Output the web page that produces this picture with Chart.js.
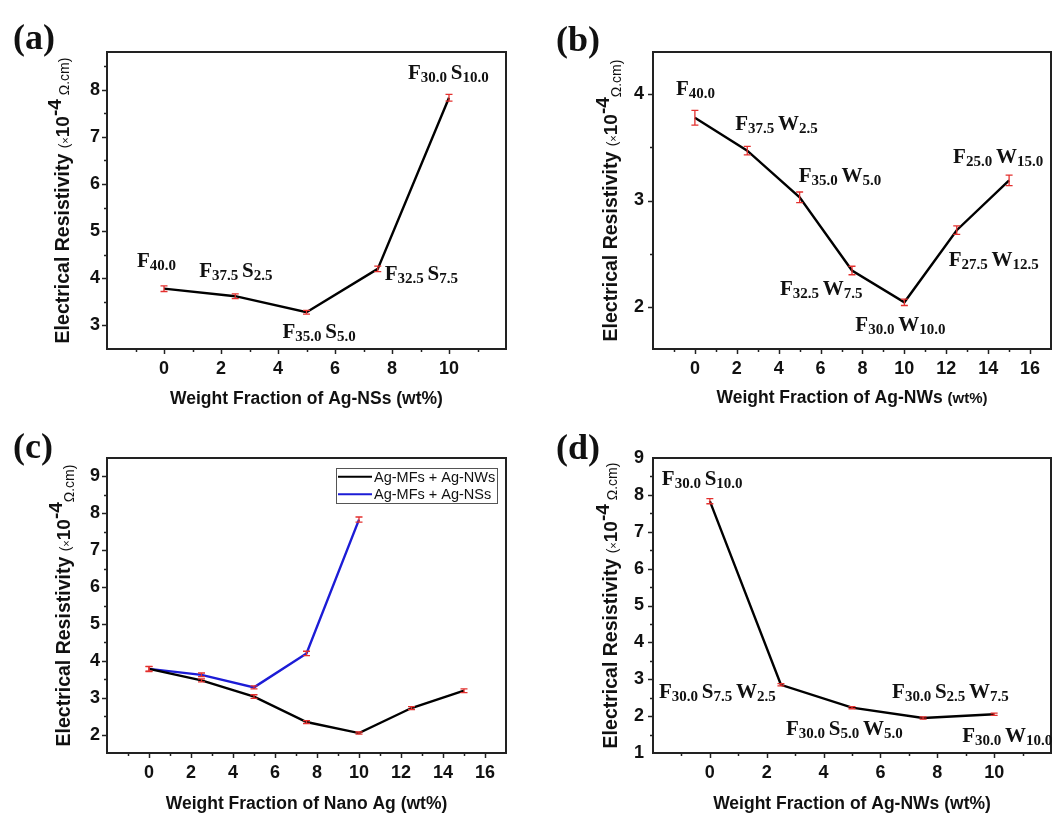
<!DOCTYPE html>
<html>
<head>
<meta charset="utf-8">
<title>Electrical resistivity of silver-filled composites</title>
<script src="https://cdn.jsdelivr.net/npm/chart.js@4.4.1/dist/chart.umd.min.js"></script>
<style>
    body { margin: 0; background: #fff; }
    #figure { position: relative; width: 1058px; height: 813px; overflow: hidden; background: #fff; }
    #figure canvas { position: absolute; }
</style>
</head>
<body>
<div id="figure">
    <canvas id="panelA" width="529" height="412" style="left:0;top:0"></canvas>
    <canvas id="panelB" width="529" height="412" style="left:529px;top:0"></canvas>
    <canvas id="panelC" width="529" height="407" style="left:0;top:406px"></canvas>
    <canvas id="panelD" width="529" height="407" style="left:529px;top:406px"></canvas>
</div>
<script>
// Ag-MFs + Ag-NSs (nano spheres), wt% of nano filler
const nsLoading = [0, 2.5, 5, 7.5, 10];
const nsResistivity = [3.78, 3.62, 3.28, 4.20, 7.83];
const nsError = [0.06, 0.05, 0.04, 0.06, 0.07];
const nsLabels = [
    [['F', '40.0']],
    [['F', '37.5'], ['S', '2.5']],
    [['F', '35.0'], ['S', '5.0']],
    [['F', '32.5'], ['S', '7.5']],
    [['F', '30.0'], ['S', '10.0']]
];

// Ag-MFs + Ag-NWs (nano wires)
const nwLoading = [0, 2.5, 5, 7.5, 10, 12.5, 15];
const nwResistivity = [3.78, 3.47, 3.03, 2.34, 2.04, 2.72, 3.19];
const nwError = [0.07, 0.04, 0.05, 0.04, 0.03, 0.04, 0.05];
const nwLabels = [
    [['F', '40.0']],
    [['F', '37.5'], ['W', '2.5']],
    [['F', '35.0'], ['W', '5.0']],
    [['F', '32.5'], ['W', '7.5']],
    [['F', '30.0'], ['W', '10.0']],
    [['F', '27.5'], ['W', '12.5']],
    [['F', '25.0'], ['W', '15.0']]
];

// F30 with NSs swapped for NWs
const mixLoading = [0, 2.5, 5, 7.5, 10];
const mixResistivity = [7.83, 2.85, 2.23, 1.95, 2.05];
const mixError = [0.07, 0.03, 0.03, 0.03, 0.03];
const mixLabels = [
    [['F', '30.0'], ['S', '10.0']],
    [['F', '30.0'], ['S', '7.5'], ['W', '2.5']],
    [['F', '30.0'], ['S', '5.0'], ['W', '5.0']],
    [['F', '30.0'], ['S', '2.5'], ['W', '7.5']],
    [['F', '30.0'], ['W', '10.0']]
];

const seriesNames = ['Ag-MFs + Ag-NWs', 'Ag-MFs + Ag-NSs'];

// tick labels
const xTicksShort = [0, 2, 4, 6, 8, 10];
const xTicksLong = [0, 2, 4, 6, 8, 10, 12, 14, 16];
const yTicksA = [3, 4, 5, 6, 7, 8];
const yTicksB = [2, 3, 4];
const yTicksC = [2, 3, 4, 5, 6, 7, 8, 9];
const yTicksD = [1, 2, 3, 4, 5, 6, 7, 8, 9];

const SANS = '"Liberation Sans", Arial, Helvetica, sans-serif';
const SERIF = '"Liberation Serif", "Times New Roman", Times, serif';
const ERR_COLOR = '#e3302e';

function yTitleParts(lowered) {
    return [
        { text: 'Electrical Resistivity ', font: 'bold 19.5px ' + SANS, dy: 0 },
        { text: '(', font: '14px ' + SANS, dy: 0 },
        { text: '\u00d7', font: '11px ' + SANS, dy: 0 },
        { text: '10', font: 'bold 19px ' + SANS, dy: 0 },
        { text: '-4', font: 'bold 19px ' + SANS, dy: -8 },
        { text: lowered ? '\u03a9.cm)' : ' \u03a9.cm)', font: '14px ' + SANS, dy: lowered ? 4 : 0 }
    ];
}

const panels = [
    {
        id: 'panelA', letter: '(a)', letterAt: [13, 49],
        area: { left: 107, right: 506, top: 52, bottom: 349 },
        x: { min: -2, max: 12, ticks: xTicksShort, minor: 1 },
        y: { min: 2.5, max: 8.8, ticks: yTicksA, minor: 0.5, pad: 7 },
        xTitle: [{ text: 'Weight Fraction of Ag-NSs (wt%)', font: 'bold 17.5px ' + SANS }],
        xTitleBase: 404, yTitleX: 62, yTitle: yTitleParts(false),
        series: [{
            x: nsLoading, y: nsResistivity, err: nsError, color: '#000', labels: nsLabels,
            offsets: [[-27, -22], [-36, -19], [-24, 26], [7, 11], [-41, -19]]
        }]
    },
    {
        id: 'panelB', letter: '(b)', letterAt: [27, 51],
        area: { left: 124, right: 522, top: 52, bottom: 349 },
        x: { min: -2, max: 17, ticks: xTicksLong, minor: 1 },
        y: { min: 1.6, max: 4.4, ticks: yTicksB, minor: 0.5, pad: 9 },
        xTitle: [
            { text: 'Weight Fraction of Ag-NWs ', font: 'bold 17.5px ' + SANS },
            { text: '(wt%)', font: 'bold 15px ' + SANS }
        ],
        xTitleBase: 403, yTitleX: 81, yTitle: yTitleParts(true),
        series: [{
            x: nwLoading, y: nwResistivity, err: nwError, color: '#000', labels: nwLabels,
            offsets: [[-19, -23], [-12, -21], [-1, -15], [-72, 24], [-49, 29], [-8, 36], [-56, -17]]
        }]
    },
    {
        id: 'panelC', letter: '(c)', letterAt: [13, 52],
        area: { left: 107, right: 506, top: 52, bottom: 347 },
        x: { min: -2, max: 17, ticks: xTicksLong, minor: 1 },
        y: { min: 1.5, max: 9.5, ticks: yTicksC, minor: 0.5, pad: 7 },
        xTitle: [{ text: 'Weight Fraction of Nano Ag (wt%)', font: 'bold 17.5px ' + SANS }],
        xTitleBase: 403, yTitleX: 63, yTitle: yTitleParts(true),
        legend: { left: 336, top: 62, right: 497, bottom: 97 },
        series: [
            { name: seriesNames[0], x: nwLoading, y: nwResistivity, err: nwError, color: '#000' },
            { name: seriesNames[1], x: nsLoading, y: nsResistivity, err: nsError, color: '#1c1cd6' }
        ]
    },
    {
        id: 'panelD', letter: '(d)', letterAt: [27, 53],
        area: { left: 124, right: 522, top: 52, bottom: 347 },
        x: { min: -2, max: 12, ticks: xTicksShort, minor: 1 },
        y: { min: 1, max: 9, ticks: yTicksD, minor: 0.5, pad: 9 },
        xTitle: [{ text: 'Weight Fraction of Ag-NWs (wt%)', font: 'bold 17.5px ' + SANS }],
        xTitleBase: 403, yTitleX: 81, yTitle: yTitleParts(false),
        series: [{
            x: mixLoading, y: mixResistivity, err: mixError, color: '#000', labels: mixLabels,
            offsets: [[-48, -16], [-122, 13], [-66, 27], [-31, -20], [-32, 28]]
        }]
    }
];

// text made of pieces with their own fonts, laid out left to right
function drawRuns(ctx, parts, x, y) {
    let cx = x;
    parts.forEach(p => {
        ctx.font = p.font;
        ctx.fillText(p.text, cx, y + (p.dy || 0));
        cx += ctx.measureText(p.text).width;
    });
    return cx - x;
}

function runsWidth(ctx, parts) {
    let w = 0;
    parts.forEach(p => { ctx.font = p.font; w += ctx.measureText(p.text).width; });
    return w;
}

// F30.0 S10.0 style composition labels with subscripts
function drawComposition(ctx, parts, x, y) {
    const runs = [];
    parts.forEach((p, i) => {
        if (i > 0) runs.push({ text: ' ', font: 'bold 15px ' + SERIF });
        runs.push({ text: p[0], font: 'bold 21px ' + SERIF });
        runs.push({ text: p[1], font: 'bold 15px ' + SERIF, dy: 3 });
    });
    drawRuns(ctx, runs, x, y);
}

const panelDecor = {
    id: 'panelDecor',
    afterDatasetsDraw(chart) {
        const cfg = chart.options.plugins.panelDecor.cfg;
        const ctx = chart.ctx;
        const xs = chart.scales.x, ys = chart.scales.y;
        ctx.save();
        // error bars
        ctx.strokeStyle = ERR_COLOR;
        ctx.lineWidth = 1.3;
        cfg.series.forEach(s => {
            s.x.forEach((xv, i) => {
                const px = xs.getPixelForValue(xv);
                const top = ys.getPixelForValue(s.y[i] + s.err[i]);
                const bot = ys.getPixelForValue(s.y[i] - s.err[i]);
                ctx.beginPath();
                ctx.moveTo(px, top); ctx.lineTo(px, bot);
                ctx.moveTo(px - 3.5, top); ctx.lineTo(px + 3.5, top);
                ctx.moveTo(px - 3.5, bot); ctx.lineTo(px + 3.5, bot);
                ctx.stroke();
            });
        });
        ctx.restore();
    },
    afterDraw(chart) {
        const cfg = chart.options.plugins.panelDecor.cfg;
        const ctx = chart.ctx;
        const xs = chart.scales.x, ys = chart.scales.y;
        const a = chart.chartArea;
        ctx.save();

        // frame
        ctx.lineWidth = 2;
        ctx.strokeStyle = '#222';
        ctx.strokeRect(a.left, a.top, a.right - a.left, a.bottom - a.top);

        // outward ticks, long on labelled values
        ctx.lineWidth = 1.5;
        for (let v = Math.ceil(cfg.x.min / cfg.x.minor) * cfg.x.minor; v < cfg.x.max; v += cfg.x.minor) {
            if (v <= cfg.x.min) continue;
            const px = Math.round(xs.getPixelForValue(v)) + 0.5;
            const len = cfg.x.ticks.includes(v) ? 5 : 3;
            ctx.beginPath(); ctx.moveTo(px, a.bottom); ctx.lineTo(px, a.bottom + len); ctx.stroke();
        }
        for (let v = Math.ceil(cfg.y.min / cfg.y.minor) * cfg.y.minor; v < cfg.y.max; v += cfg.y.minor) {
            if (v <= cfg.y.min) continue;
            const py = Math.round(ys.getPixelForValue(v)) + 0.5;
            const len = cfg.y.ticks.includes(v) ? 5 : 3;
            ctx.beginPath(); ctx.moveTo(a.left, py); ctx.lineTo(a.left - len, py); ctx.stroke();
        }

        ctx.fillStyle = '#111';
        ctx.textBaseline = 'alphabetic';
        ctx.textAlign = 'left';

        // composition labels
        cfg.series.forEach(s => {
            if (!s.labels) return;
            s.labels.forEach((parts, i) => {
                const px = xs.getPixelForValue(s.x[i]) + s.offsets[i][0];
                const py = ys.getPixelForValue(s.y[i]) + s.offsets[i][1];
                drawComposition(ctx, parts, px, py);
            });
        });

        // axis titles
        const xw = runsWidth(ctx, cfg.xTitle);
        drawRuns(ctx, cfg.xTitle, (a.left + a.right) / 2 - xw / 2, cfg.xTitleBase);

        ctx.save();
        ctx.translate(cfg.yTitleX, (a.top + a.bottom) / 2);
        ctx.rotate(-Math.PI / 2);
        const yw = runsWidth(ctx, cfg.yTitle);
        drawRuns(ctx, cfg.yTitle, -yw / 2, 7);
        ctx.restore();

        // panel letter
        ctx.font = 'bold 36px ' + SERIF;
        ctx.fillText(cfg.letter, cfg.letterAt[0], cfg.letterAt[1]);

        // legend box
        if (cfg.legend) {
            const L = cfg.legend;
            ctx.lineWidth = 1;
            ctx.strokeStyle = '#555';
            ctx.strokeRect(L.left + 0.5, L.top + 0.5, L.right - L.left, L.bottom - L.top);
            const rowH = (L.bottom - L.top) / cfg.series.length;
            cfg.series.forEach((s, i) => {
                const cy = L.top + rowH * (i + 0.5);
                ctx.strokeStyle = s.color;
                ctx.lineWidth = 2;
                ctx.beginPath(); ctx.moveTo(L.left + 2, cy); ctx.lineTo(L.left + 36, cy); ctx.stroke();
                ctx.font = '14.5px ' + SANS;
                ctx.fillStyle = '#111';
                ctx.textBaseline = 'middle';
                ctx.fillText(s.name, L.left + 38, cy + 1);
            });
        }
        ctx.restore();
    }
};

function buildPanel(cfg) {
    const canvas = document.getElementById(cfg.id);
    const W = canvas.width, H = canvas.height;
    const tickFont = { family: SANS, size: 18, weight: 'bold' };
    return new Chart(canvas, {
        type: 'line',
        data: {
            datasets: cfg.series.map(s => ({
                label: s.name || '',
                data: s.x.map((xv, i) => ({ x: xv, y: s.y[i] })),
                borderColor: s.color,
                borderWidth: 2.4,
                pointRadius: 0,
                tension: 0,
                fill: false
            }))
        },
        options: {
            responsive: false,
            animation: false,
            devicePixelRatio: 1,
            layout: { padding: { left: 0, top: cfg.area.top, right: W - cfg.area.right, bottom: 0 } },
            plugins: {
                legend: { display: false },
                tooltip: { enabled: false },
                panelDecor: { cfg: cfg }
            },
            scales: {
                x: {
                    type: 'linear',
                    min: cfg.x.min,
                    max: cfg.x.max,
                    grid: { display: false, drawTicks: false },
                    border: { display: false },
                    ticks: { font: tickFont, color: '#111', padding: 9, autoSkip: false, maxRotation: 0 },
                    afterBuildTicks: scale => { scale.ticks = cfg.x.ticks.map(v => ({ value: v })); },
                    afterFit: scale => { scale.height = H - cfg.area.bottom; }
                },
                y: {
                    type: 'linear',
                    min: cfg.y.min,
                    max: cfg.y.max,
                    grid: { display: false, drawTicks: false },
                    border: { display: false },
                    ticks: { font: tickFont, color: '#111', padding: cfg.y.pad, autoSkip: false },
                    afterBuildTicks: scale => { scale.ticks = cfg.y.ticks.map(v => ({ value: v })); },
                    afterFit: scale => { scale.width = cfg.area.left; }
                }
            }
        },
        plugins: [panelDecor]
    });
}

panels.forEach(buildPanel);
</script>
</body>
</html>
